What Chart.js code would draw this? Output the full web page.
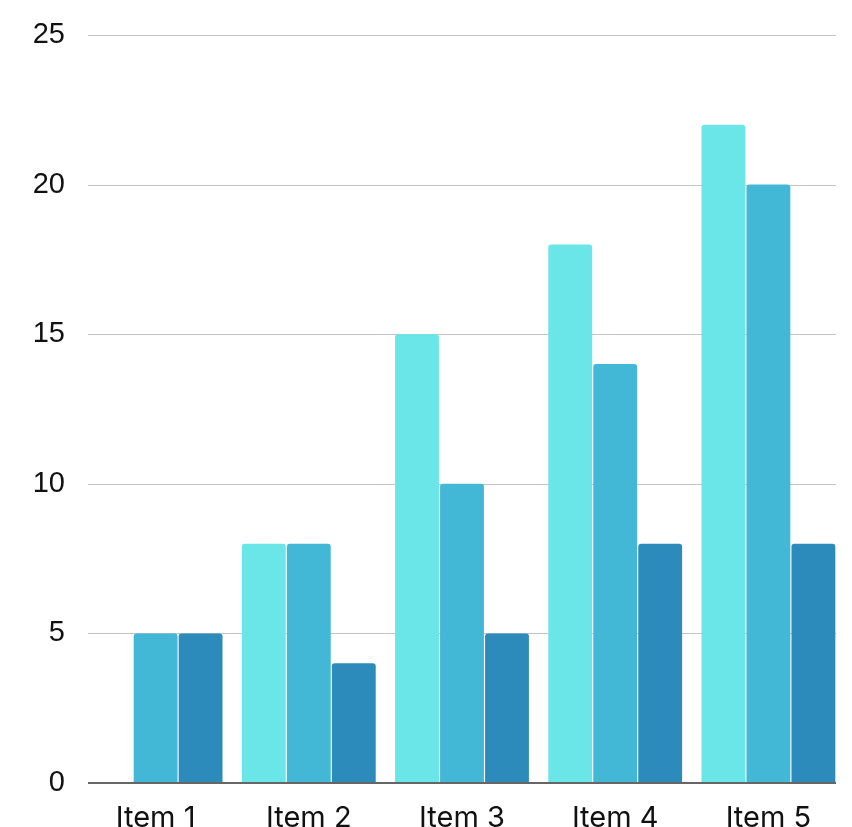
<!DOCTYPE html>
<html>
<head>
<meta charset="utf-8">
<script src="https://cdn.jsdelivr.net/npm/chart.js@4"></script>
<style>
  html, body { margin: 0; padding: 0; background: #fff; }
  #wrap { width: 852px; height: 827px; }
</style>
</head>
<body>
<div id="wrap"><canvas id="chart"></canvas></div>
<script>
// Chart data
const categories = ['Item 1', 'Item 2', 'Item 3', 'Item 4', 'Item 5'];
const series1 = [0, 8, 15, 18, 22];
const series2 = [5, 8, 10, 14, 20];
const series3 = [5, 4, 5, 8, 8];
const yTicks = [0, 5, 10, 15, 20, 25];

const colors = ['#6ae5e8', '#42b8d6', '#2c8bba'];

// Grid lines are a bit shorter than the category axis, so draw them here
const gridPlugin = {
  id: 'gridLines',
  beforeDatasetsDraw(chart) {
    const { ctx, chartArea, scales } = chart;
    ctx.save();
    ctx.strokeStyle = '#c4c4c4';
    ctx.lineWidth = 1;
    yTicks.forEach((v) => {
      if (v === 0) return;
      const y = Math.round(scales.y.getPixelForValue(v)) + 0.5;
      ctx.beginPath();
      ctx.moveTo(chartArea.left + 9, y);
      ctx.lineTo(chartArea.right - 9, y);
      ctx.stroke();
    });
    ctx.restore();
  },
  afterDatasetsDraw(chart) {
    const { ctx, chartArea, scales } = chart;
    const y = Math.round(scales.y.getPixelForValue(0));
    ctx.save();
    ctx.strokeStyle = '#666666';
    ctx.lineWidth = 2;
    ctx.beginPath();
    ctx.moveTo(chartArea.left + 9, y);
    ctx.lineTo(chartArea.right - 9, y);
    ctx.stroke();
    ctx.restore();
  }
};

const makeSet = (data, i) => ({
  data: data,
  backgroundColor: colors[i],
  borderRadius: { topLeft: 3, topRight: 3, bottomLeft: 0, bottomRight: 0 },
  borderSkipped: 'bottom',
  barPercentage: 0.975,
  categoryPercentage: 0.881
});

new Chart(document.getElementById('chart'), {
  type: 'bar',
  data: {
    labels: categories,
    datasets: [makeSet(series1, 0), makeSet(series2, 1), makeSet(series3, 2)]
  },
  options: {
    responsive: true,
    maintainAspectRatio: false,
    animation: false,
    layout: { padding: { top: 35, right: 7, left: 0, bottom: 0 } },
    plugins: { legend: { display: false }, tooltip: { enabled: false } },
    scales: {
      x: {
        grid: { display: false },
        border: { display: false },
        ticks: {
          color: '#111',
          padding: 10,
          font: { family: 'Inter', size: 29 }
        },
        afterFit: (s) => { s.height = 44; }
      },
      y: {
        min: 0,
        max: 25,
        grid: { display: false, drawTicks: false },
        border: { display: false },
        afterBuildTicks: (s) => { s.ticks = yTicks.map((v) => ({ value: v })); },
        ticks: {
          color: '#111',
          padding: 14,
          font: { family: 'Liberation Sans', size: 29 }
        },
        afterFit: (s) => { s.width = 79; }
      }
    }
  },
  plugins: [gridPlugin]
});
</script>
</body>
</html>
